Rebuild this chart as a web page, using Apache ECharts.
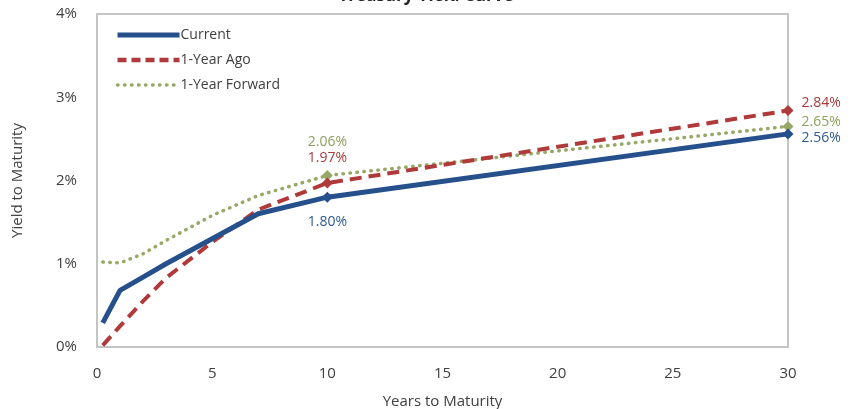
<!DOCTYPE html>
<html>
<head>
<meta charset="utf-8">
<script src="https://cdn.jsdelivr.net/npm/echarts@6/dist/echarts.min.js"></script>
<style>html,body{margin:0;padding:0;background:#fff;}#c{width:852px;height:409px;}</style>
</head>
<body>
<div id="c"></div>
<script>
const maturities = [0.25, 1, 2, 3, 5, 7, 10, 30];
const current = [0.29, 0.68, 0.84, 1.00, 1.30, 1.60, 1.80, 2.56];
const yearAgo = [0.02, 0.25, 0.55, 0.83, 1.26, 1.65, 1.97, 2.84];
const yearForward = [1.02, 1.01, 1.12, 1.28, 1.58, 1.82, 2.06, 2.65];
const markerYears = [10, 30];
const yTicks = [0, 1, 2, 3, 4];

const colors = { current: '#26508c', ago: '#b0393a', fwd: '#97a866' };
const labelCols = { current: '#2f5a8e', ago: '#a23c3c', fwd: '#8ea05e' };

function build(vals, col, offsets) {
  return maturities.map((m, i) => {
    const item = { value: [m, vals[i]] };
    const k = markerYears.indexOf(m);
    if (k >= 0) {
      item.label = {
        show: true,
        formatter: (p) => p.value[1].toFixed(2) + '%',
        color: col,
        fontSize: 14,
        fontFamily: 'Open Sans, sans-serif',
        position: offsets[k].pos,
        offset: offsets[k].off,
        distance: 6
      };
    }
    return item;
  });
}
const sym = (v) => markerYears.indexOf(v[0]) >= 0 ? 'diamond' : 'none';

const chart = echarts.init(document.getElementById('c'));
chart.setOption({
  animation: false,
  title: {
    text: 'Treasury Yield Curve', left: 'center', top: -17,
    textStyle: { fontSize: 17, fontWeight: 'bold', color: '#222', fontFamily: 'Open Sans, sans-serif' }
  },
  legend: {
    left: 110, top: 23, orient: 'vertical', itemGap: 11, itemWidth: 62, itemHeight: 14,
    itemStyle: { opacity: 0 },
    textStyle: { fontSize: 14, color: '#404040', fontFamily: 'Open Sans, sans-serif', padding: [0, 0, 0, -4] },
    data: [
      { name: 'Current', lineStyle: { width: 5 } },
      { name: '1-Year Ago', lineStyle: { width: 4.5, type: [9, 5] } },
      { name: '1-Year Forward', lineStyle: { width: 3.5, type: [0.5, 6.5], cap: 'round' } }
    ]
  },
  grid: { left: 97, right: 64, top: 14, bottom: 62, containLabel: false, outerBoundsMode: 'none',
          show: true, borderColor: '#c4c4c4', borderWidth: 2 },
  xAxis: {
    type: 'value', min: 0, max: 30, interval: 5,
    name: 'Years to Maturity', nameLocation: 'middle', nameGap: 47,
    nameTextStyle: { fontSize: 15, color: '#404040', fontFamily: 'Open Sans, sans-serif' },
    axisLine: { show: true, lineStyle: { color: '#c4c4c4', width: 2 } },
    axisTick: { show: false }, splitLine: { show: false },
    axisLabel: { fontSize: 15, color: '#404040', margin: 19, fontFamily: 'Open Sans, sans-serif' }
  },
  yAxis: {
    type: 'value', min: yTicks[0], max: yTicks[yTicks.length - 1], interval: 1,
    name: 'Yield to Maturity', nameLocation: 'middle', nameGap: 72,
    nameTextStyle: { fontSize: 15, color: '#404040', fontFamily: 'Open Sans, sans-serif' },
    axisLine: { show: true, lineStyle: { color: '#c4c4c4', width: 2 } },
    axisTick: { show: false }, splitLine: { show: false },
    axisLabel: { fontSize: 15, color: '#404040', margin: 20, formatter: '{value}%', fontFamily: 'Open Sans, sans-serif' }
  },
  series: [
    {
      name: '1-Year Forward', type: 'line', z: 2, symbol: sym, symbolSize: 11,
      itemStyle: { color: colors.fwd },
      lineStyle: { color: colors.fwd, width: 3.5, type: [0.5, 6.5], cap: 'round' },
      data: build(yearForward, labelCols.fwd, [{ pos: 'top', off: [0, -15] }, { pos: 'right', off: [2, -4] }])
    },
    {
      name: '1-Year Ago', type: 'line', z: 3, symbol: sym, symbolSize: 11,
      itemStyle: { color: colors.ago },
      lineStyle: { color: colors.ago, width: 4, type: [12, 7] },
      data: build(yearAgo, labelCols.ago, [{ pos: 'top', off: [0, -6] }, { pos: 'right', off: [2, -8] }])
    },
    {
      name: 'Current', type: 'line', z: 4, symbol: sym, symbolSize: 11,
      itemStyle: { color: colors.current },
      lineStyle: { color: colors.current, width: 5 },
      data: build(current, labelCols.current, [{ pos: 'bottom', off: [0, 6] }, { pos: 'right', off: [2, 4] }])
    }
  ]
});
</script>
</body>
</html>
